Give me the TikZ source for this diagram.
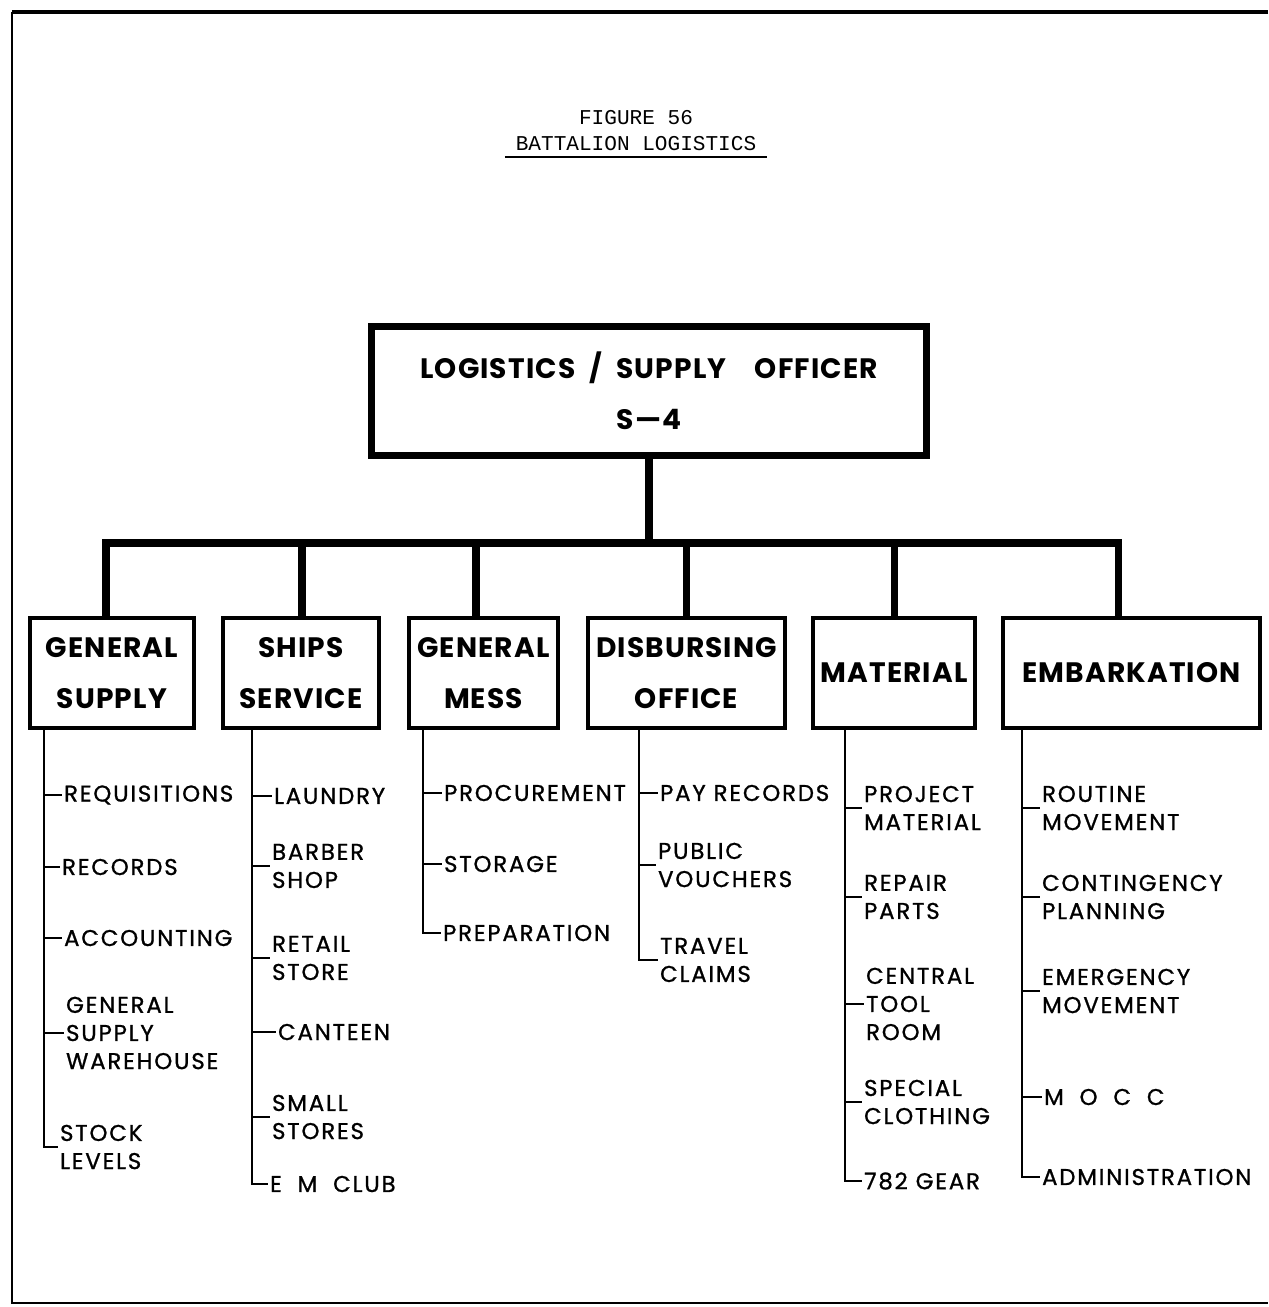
\documentclass[tikz,border=0pt]{standalone}
\usepackage{fontspec}
\setmainfont{Poppins}
\newfontfamily\typefont{Liberation Mono}
\newfontfamily\wideface{Poppins}[LetterSpace=4]
\newfontfamily\taskface{Poppins}[LetterSpace=8, FakeBold=1]

\begin{document}
\begin{tikzpicture}[x=0.02cm, y=-0.02cm,
    head/.style={draw, line width=4pt, minimum width=11.1cm, minimum height=2.58cm,
      align=center, font=\wideface\fontsize{16}{29}\selectfont\bfseries},
    unit/.style={draw, line width=2.2pt, minimum height=2.2cm, inner sep=0pt,
      align=center, font=\wideface\fontsize{16}{29}\selectfont\bfseries},
    task/.style={anchor=west, align=left, inner sep=1pt,
      font=\taskface\fontsize{13}{16}\selectfont},
    trunk/.style={line width=4pt},
    twig/.style={line width=1.1pt}]
  \useasboundingbox (0,0) rectangle (1268,1307);
  % page frame
  \draw[line width=2.2pt] (1268,12) -- (12,12);
  \draw[line width=1.6pt] (12,12) -- (12,1303) -- (1268,1303);
  % title
  \node[font=\typefont\fontsize{12}{14}\selectfont] (fig) at (636,118) {FIGURE 56};
  \node[font=\typefont\fontsize{12}{14}\selectfont, inner xsep=6pt, inner ysep=3pt]
    (ttl) at (636,144) {BATTALION LOGISTICS};
  \draw[line width=1.2pt] (ttl.south west) -- (ttl.south east);

  % the officer
  \node[head] (s4) at (649,391) {LOGISTICS~~/~~SUPPLY~~~~OFFICER\\S—4};

  % the six sections
  \node[unit, minimum width=3.28cm] (gs) at (112,673) {GENERAL\\SUPPLY};
  \node[unit, minimum width=3.12cm] (ss) at (301,673) {SHIPS\\SERVICE};
  \node[unit, minimum width=2.98cm] (gm) at (483.5,673) {GENERAL\\MESS};
  \node[unit, minimum width=3.94cm] (do) at (686.5,673) {DISBURSING\\OFFICE};
  \node[unit, minimum width=3.24cm] (mat) at (894,673) {MATERIAL};
  \node[unit, minimum width=5.14cm] (emb) at (1131.5,673) {EMBARKATION};

  % bus bar from the officer down to each section
  \coordinate (bus) at (649,543);
  \draw[trunk] (s4.south) -- (bus);
  \draw[trunk, line join=miter] ([xshift=-0.12cm]gs.north) |- (bus);
  \draw[trunk, line join=miter] ([xshift=-0.27cm]emb.north) |- (bus);
  \draw[trunk] ([xshift=0.02cm]ss.north) -- ([xshift=0.02cm]ss.north |- bus);
  \draw[trunk] ([xshift=-0.15cm]gm.north) -- ([xshift=-0.15cm]gm.north |- bus);
  \draw[trunk] (do.north) -- (do.north |- bus);
  \draw[trunk] (mat.north) -- (mat.north |- bus);

  % general supply
  \coordinate (gs-l) at (44,730);
  \node[task] (gs1) at (62,795) {REQUISITIONS};
  \node[task] (gs2) at (60,867) {RECORDS};
  \node[task] (gs3) at (62,938) {ACCOUNTING};
  \node[task] (gs4) at (64,1033) {GENERAL\\SUPPLY\\WAREHOUSE};
  \node[task] (gs5) at (58,1147) {STOCK\\LEVELS};
  \draw[twig] (gs-l) |- (gs5.west)
    (gs-l |- gs1.west) -- (gs1.west) (gs-l |- gs2.west) -- (gs2.west)
    (gs-l |- gs3.west) -- (gs3.west) (gs-l |- gs4.west) -- (gs4.west);

  % ships service
  \coordinate (ss-l) at (252,730);
  \node[task] (ss1) at (272,796) {LAUNDRY};
  \node[task] (ss2) at (270,866) {BARBER\\SHOP};
  \node[task] (ss3) at (270,958) {RETAIL\\STORE};
  \node[task] (ss4) at (276,1032) {CANTEEN};
  \node[task] (ss5) at (270,1117) {SMALL\\STORES};
  \node[task] (ss6) at (268,1184) {E~~M~~CLUB};
  \draw[twig] (ss-l) |- (ss6.west)
    (ss-l |- ss1.west) -- (ss1.west) (ss-l |- ss2.west) -- (ss2.west)
    (ss-l |- ss3.west) -- (ss3.west) (ss-l |- ss4.west) -- (ss4.west)
    (ss-l |- ss5.west) -- (ss5.west);

  % general mess
  \coordinate (gm-l) at (423,730);
  \node[task] (gm1) at (442,793) {PROCUREMENT};
  \node[task] (gm2) at (442,864) {STORAGE};
  \node[task] (gm3) at (441,933) {PREPARATION};
  \draw[twig] (gm-l) |- (gm3.west)
    (gm-l |- gm1.west) -- (gm1.west) (gm-l |- gm2.west) -- (gm2.west);

  % disbursing office
  \coordinate (do-l) at (639,728);
  \node[task] (do1) at (658,793) {PAY RECORDS};
  \node[task] (do2) at (656,865) {PUBLIC\\VOUCHERS};
  \node[task] (do3) at (658,960) {TRAVEL\\CLAIMS};
  \draw[twig] (do-l) |- (do3.west)
    (do-l |- do1.west) -- (do1.west) (do-l |- do2.west) -- (do2.west);

  % material
  \coordinate (mat-l) at (845,728);
  \node[task] (mat1) at (862,808) {PROJECT\\MATERIAL};
  \node[task] (mat2) at (862,897) {REPAIR\\PARTS};
  \node[task] (mat3) at (864,1004) {CENTRAL\\TOOL\\ROOM};
  \node[task] (mat4) at (862,1102) {SPECIAL\\CLOTHING};
  \node[task] (mat5) at (862,1181) {782 GEAR};
  \draw[twig] (mat-l) |- (mat5.west)
    (mat-l |- mat1.west) -- (mat1.west) (mat-l |- mat2.west) -- (mat2.west)
    (mat-l |- mat3.west) -- (mat3.west) (mat-l |- mat4.west) -- (mat4.west);

  % embarkation
  \coordinate (emb-l) at (1022,728);
  \node[task] (emb1) at (1040,808) {ROUTINE\\MOVEMENT};
  \node[task] (emb2) at (1040,897) {CONTINGENCY\\PLANNING};
  \node[task] (emb3) at (1040,991) {EMERGENCY\\MOVEMENT};
  \node[task] (emb4) at (1042,1097) {M~~O~~C~~C};
  \node[task] (emb5) at (1040,1177) {ADMINISTRATION};
  \draw[twig] (emb-l) |- (emb5.west)
    (emb-l |- emb1.west) -- (emb1.west) (emb-l |- emb2.west) -- (emb2.west)
    (emb-l |- emb3.west) -- (emb3.west) (emb-l |- emb4.west) -- (emb4.west);
\end{tikzpicture}
\end{document}
